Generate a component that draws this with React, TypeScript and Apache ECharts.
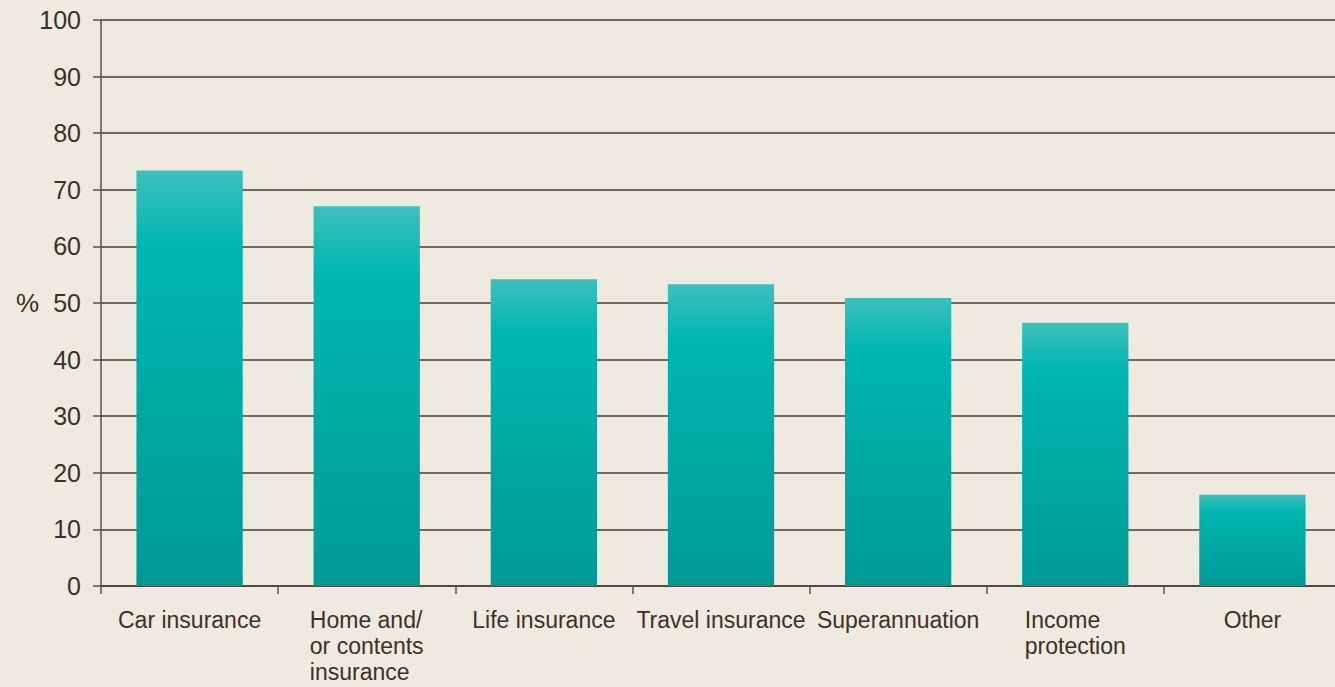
import React, { useEffect, useRef } from "react";
import * as echarts from "echarts";

const categories = [
  "Car insurance",
  "Home and/\nor contents\ninsurance",
  "Life insurance",
  "Travel insurance",
  "Superannuation",
  "Income\nprotection",
  "Other",
];
const values = [73.4, 67.1, 54.2, 53.3, 50.9, 46.5, 16.1];
const yTicks = { min: 0, max: 100, interval: 10 };

const FONT = "'Liberation Sans', Arial, Helvetica, sans-serif";
const TEXT = "#3b3128";
const GRID = "#4a3d33";
const AXIS = "#5e5048";

export default function App() {
  const ref = useRef<HTMLDivElement>(null);
  useEffect(() => {
    document.body.style.margin = "0";
    const chart = echarts.init(ref.current!, null, { renderer: "svg" });
    chart.setOption({
      animation: false,
      backgroundColor: "#efeadf",
      textStyle: { fontFamily: FONT },
      grid: { left: 101, right: 0, top: 20, bottom: 101, containLabel: false },
      graphic: [
        {
          type: "text",
          left: 16,
          top: 290,
          style: { text: "%", fontSize: 26, fill: TEXT, fontFamily: FONT },
        },
      ],
      xAxis: {
        type: "category",
        data: categories,
        axisLine: { show: true, lineStyle: { color: GRID, width: 1.5 } },
        axisTick: { show: true, length: 8, lineStyle: { color: AXIS, width: 1.5 } },
        axisLabel: {
          margin: 21,
          fontSize: 23,
          color: TEXT,
          fontFamily: FONT,
          lineHeight: 26,
          interval: 0,
          formatter: (v: string) =>
            v
              .split("\n")
              .map((l) => "{a|" + l + "}")
              .join("\n"),
          rich: {
            a: { align: "left", fontSize: 23, lineHeight: 26, color: TEXT, fontFamily: FONT },
          },
        },
      },
      yAxis: {
        type: "value",
        min: yTicks.min,
        max: yTicks.max,
        interval: yTicks.interval,
        axisLine: { show: true, lineStyle: { color: AXIS, width: 1.5 } },
        axisTick: { show: true, length: 8, lineStyle: { color: AXIS, width: 1.5 } },
        axisLabel: { margin: 20, fontSize: 25, color: TEXT, fontFamily: FONT },
        splitLine: { show: true, lineStyle: { color: GRID, width: 1.5 } },
      },
      series: [
        {
          type: "bar",
          data: values,
          barWidth: "60%",
          itemStyle: {
            color: new echarts.graphic.LinearGradient(0, 0, 0, 1, [
              { offset: 0, color: "#3dc0bd" },
              { offset: 0.18, color: "#00b6b1" },
              { offset: 1, color: "#009a95" },
            ]),
          },
        },
      ],
    });
    return () => chart.dispose();
  }, []);
  return (
    <div style={{ width: 1335, height: 687, overflow: "hidden" }}>
      <div ref={ref} style={{ width: 1341, height: 687 }} />
    </div>
  );
}
